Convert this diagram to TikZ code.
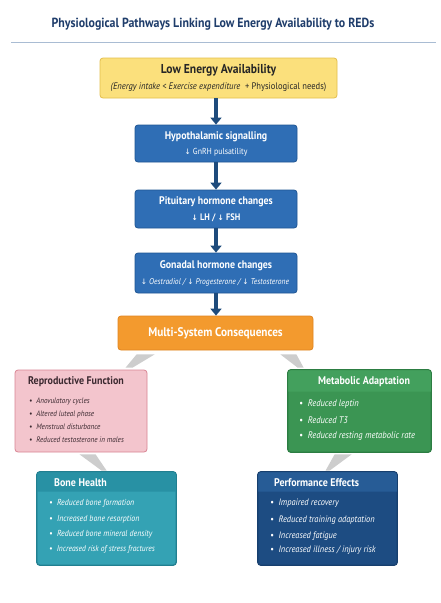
\documentclass[tikz,border=0pt]{standalone}
\usepackage{fontspec}
\setmainfont{PT Sans}[FakeStretch=0.9]
\newfontfamily\symf{DejaVu Sans}
\usetikzlibrary{arrows.meta,calc}
\definecolor{navy}{HTML}{1F3D6B}
\definecolor{rulec}{HTML}{A9BCD3}
\definecolor{yelfill}{HTML}{FBE07C}
\definecolor{yeldraw}{HTML}{E3BE4C}
\definecolor{bluefill}{HTML}{2F6EB5}
\definecolor{bluedraw}{HTML}{1F5593}
\definecolor{arrowc}{HTML}{1E4B7C}
\definecolor{orfill}{HTML}{F39A2E}
\definecolor{ordraw}{HTML}{E08420}
\definecolor{pinkfill}{HTML}{F3C5CD}
\definecolor{pinkdraw}{HTML}{D98594}
\definecolor{pinktext}{HTML}{3B2930}
\definecolor{grnfill}{HTML}{3B9553}
\definecolor{grnhead}{HTML}{43A05D}
\definecolor{grndraw}{HTML}{2C7D42}
\definecolor{tealfill}{HTML}{34A2B4}
\definecolor{tealhead}{HTML}{2891A4}
\definecolor{tealdraw}{HTML}{217F90}
\definecolor{pefill}{HTML}{1D4C82}
\definecolor{pehead}{HTML}{275C96}
\definecolor{pedraw}{HTML}{173F6E}
\definecolor{wedgec}{HTML}{CDCDCD}
\newcommand{\dnar}{{\symf\upshape\fontsize{7.5}{9}\selectfont↓}}
\begin{document}
\begin{tikzpicture}[x=1pt,y=-1pt,
  box/.style={draw, rounded corners=3pt, inner sep=0pt, line width=0.8pt},
  flow/.style={line width=4.5pt, draw=arrowc, -{Triangle[width=11pt,length=7pt]}},
  wedge/.style={fill=wedgec, draw=none},
  ttl/.style={font=\bfseries\fontsize{11}{13}\selectfont, text=white, inner sep=0pt},
  sub/.style={font=\fontsize{8.7}{10}\selectfont, text=white, inner sep=0pt},
  hd/.style={font=\bfseries\fontsize{11.1}{13}\selectfont, inner sep=0pt},
  item/.style={font=\itshape\fontsize{9.3}{11}\selectfont, anchor=west, inner sep=0pt}
]
\fill[white] (0,0) rectangle (441,603);
\useasboundingbox (0,0) rectangle (441,603);

\node[font=\bfseries\fontsize{13.2}{15}\selectfont, text=navy, inner sep=0pt] (title) at (213,24) {Physiological Pathways Linking Low Energy Availability to REDs};
\coordinate (rl) at (11,42);
\coordinate (rr) at (436,42);
\draw[rulec, line width=0.8pt] (rl) -- (rr);

% main chain
\node[box, fill=yelfill, draw=yeldraw, minimum width=237pt, minimum height=40pt] (lea) at (218.5,78) {};
\node[font=\bfseries\fontsize{12.9}{15}\selectfont, text=black!85, inner sep=0pt] (leat) at (218.5,70) {Low Energy Availability};
\node[font=\fontsize{9.5}{11}\selectfont, text=black!85, inner sep=0pt] (leas) at (218.5,87) {\textit{(Energy intake < Exercise expenditure}\enspace + Physiological needs)};

\node[box, fill=bluefill, draw=bluedraw, minimum width=162pt, minimum height=37pt] (hyp) at (216,143.5) {};
\node[ttl] (hypt) at (216,137) {Hypothalamic signalling};
\node[sub] (hyps) at (216,152) {\dnar{} GnRH pulsatility};

\node[box, fill=bluefill, draw=bluedraw, minimum width=162pt, minimum height=38pt] (pit) at (216,209) {};
\node[ttl] (pitt) at (216,202) {Pituitary hormone changes};
\node[sub, font=\bfseries\fontsize{9.4}{11}\selectfont] (pits) at (216,218) {\dnar{} LH / \dnar{} FSH};

\node[box, fill=bluefill, draw=bluedraw, minimum width=162pt, minimum height=40pt] (gon) at (216,273) {};
\node[ttl] (gont) at (216,266) {Gonadal hormone changes};
\node[sub, font=\itshape\fontsize{8.4}{10}\selectfont] (gons) at (215,282) {\dnar{} Oestradiol / \dnar{} Progesterone / \dnar{} Testosterone};

\node[box, fill=orfill, draw=ordraw, minimum width=195pt, minimum height=34pt] (msc) at (215.5,333) {};
\node[font=\bfseries\fontsize{12.5}{14}\selectfont, text=white, inner sep=0pt] (msct) at (215.5,333) {Multi-System Consequences};

\draw[flow] (lea.south -| hyp.north) -- (hyp.north);
\draw[flow] (hyp.south) -- (pit.north);
\draw[flow] (pit.south) -- (gon.north);
\draw[flow] (gon.south) -- (msc.north -| gon.south);

% consequence boxes
\node[box, fill=pinkfill, draw=pinkdraw, minimum width=132pt, minimum height=82pt] (rep) at (81,411) {};
\node[hd, text=pinktext, anchor=west] (rept) at (28,382) {Reproductive Function};
\node[item, text=pinktext, font=\itshape\fontsize{7.9}{10}\selectfont] (rep1) at (29,401) {•\enspace Anovulatory cycles};
\node[item, text=pinktext, font=\itshape\fontsize{7.9}{10}\selectfont] (rep2) at (29,414) {•\enspace Altered luteal phase};
\node[item, text=pinktext, font=\itshape\fontsize{7.9}{10}\selectfont] (rep3) at (29,427) {•\enspace Menstrual disturbance};
\node[item, text=pinktext, font=\itshape\fontsize{7.9}{10}\selectfont] (rep4) at (29,440) {•\enspace Reduced testosterone in males};

\node[box, fill=grnfill, draw=grndraw, minimum width=143pt, minimum height=82pt] (met) at (359.5,411) {};
\fill[grnhead, rounded corners=3pt] ($(met.north west)+(0.4,0.4)$) -- ($(met.north east)+(-0.4,0.4)$) [sharp corners] -- ($(met.north east)+(-0.4,22)$) -- ($(met.north west)+(0.4,22)$) [rounded corners=3pt] -- cycle;
\draw[grndraw, line width=0.8pt, rounded corners=3pt] (met.north west) rectangle (met.south east);
\node[hd, text=white] (mett) at (364,382) {Metabolic Adaptation};
\node[item, text=white, font=\itshape\fontsize{9.5}{11}\selectfont] (met1) at (299,404) {•\enspace Reduced leptin};
\node[item, text=white, font=\itshape\fontsize{9.5}{11}\selectfont] (met2) at (299,420) {•\enspace Reduced T3};
\node[item, text=white, font=\itshape\fontsize{9.5}{11}\selectfont] (met3) at (299,436) {•\enspace Reduced resting metabolic rate};

\node[box, fill=tealfill, draw=tealdraw, minimum width=139pt, minimum height=93pt] (bone) at (106.5,518.5) {};
\fill[tealhead, rounded corners=3pt] ($(bone.north west)+(0.4,0.4)$) -- ($(bone.north east)+(-0.4,0.4)$) [sharp corners] -- ($(bone.north east)+(-0.4,20)$) -- ($(bone.north west)+(0.4,20)$) [rounded corners=3pt] -- cycle;
\draw[tealdraw, line width=0.8pt, rounded corners=3pt] (bone.north west) rectangle (bone.south east);
\node[hd, text=white, anchor=west] (bonet) at (54,483) {Bone Health};
\node[item, text=white, font=\itshape\fontsize{8.7}{11}\selectfont] (bone1) at (49,503) {•\enspace Reduced bone formation};
\node[item, text=white, font=\itshape\fontsize{8.7}{11}\selectfont] (bone2) at (49,519) {•\enspace Increased bone resorption};
\node[item, text=white, font=\itshape\fontsize{8.7}{11}\selectfont] (bone3) at (49,534) {•\enspace Reduced bone mineral density};
\node[item, text=white, font=\itshape\fontsize{8.4}{10}\selectfont] (bone4) at (49,549) {•\enspace Increased risk of stress fractures};

\node[box, fill=pefill, draw=pedraw, minimum width=139pt, minimum height=93pt] (perf) at (327.5,518.5) {};
\fill[pehead, rounded corners=3pt] ($(perf.north west)+(0.4,0.4)$) -- ($(perf.north east)+(-0.4,0.4)$) [sharp corners] -- ($(perf.north east)+(-0.4,20)$) -- ($(perf.north west)+(0.4,20)$) [rounded corners=3pt] -- cycle;
\draw[pedraw, line width=0.8pt, rounded corners=3pt] (perf.north west) rectangle (perf.south east);
\node[hd, text=white, anchor=west] (perft) at (274,483) {Performance Effects};
\node[item, text=white] (perf1) at (270,503) {•\enspace Impaired recovery};
\node[item, text=white] (perf2) at (270,520) {•\enspace Reduced training adaptation};
\node[item, text=white] (perf3) at (270,536) {•\enspace Increased fatigue};
\node[item, text=white] (perf4) at (270,550) {•\enspace Increased illness / injury risk};

% wedge connectors
\fill[wedge] ($(msc.south west)+(19,4)$) -- ($(msc.south west)+(37,4)$) -- ($(rep.north west)+(118,-2)$) -- ($(rep.north west)+(111,-2)$) -- cycle;
\fill[wedge] ($(msc.south east)+(-33,4)$) -- ($(msc.south east)+(-17,4)$) -- ($(met.north west)+(16,-2)$) -- ($(met.north west)+(10,-2)$) -- cycle;
\fill[wedge] ($(rep.south west)+(65,2)$) -- ($(rep.south west)+(81,2)$) -- ($(bone.north west)+(70,-1)$) -- ($(bone.north west)+(65,-1)$) -- cycle;
\fill[wedge] ($(met.south west)+(47,2)$) -- ($(met.south west)+(64,2)$) -- ($(perf.north west)+(72,-1)$) -- ($(perf.north west)+(68,-1)$) -- cycle;
\end{tikzpicture}
\end{document}
